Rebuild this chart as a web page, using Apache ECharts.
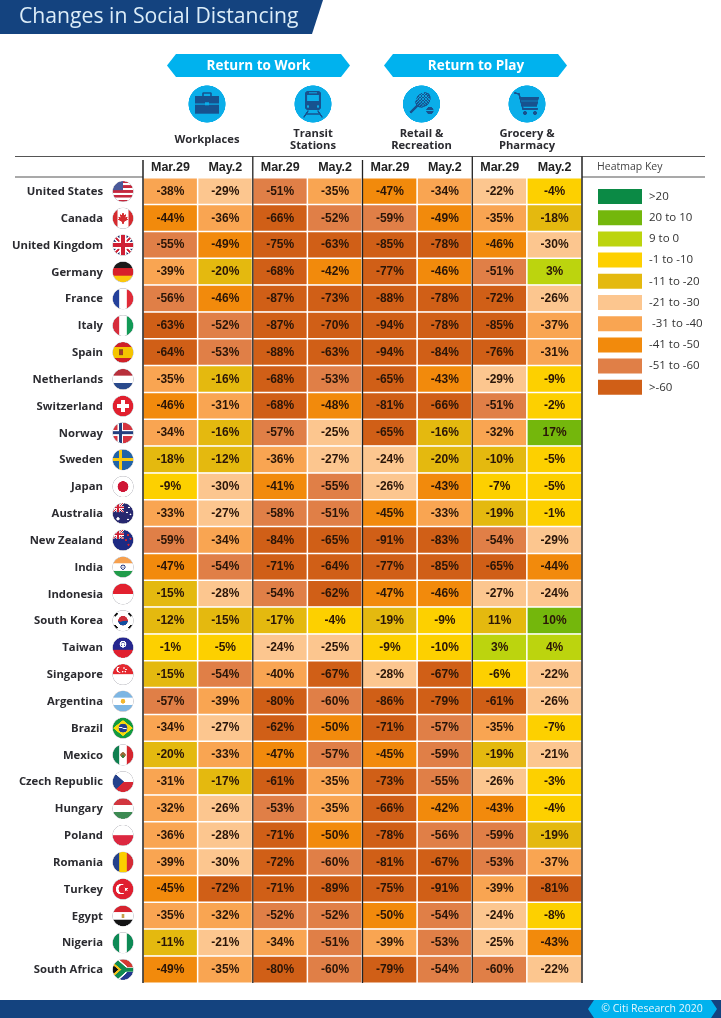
<!DOCTYPE html>
<html><head><meta charset="utf-8">
<style>html,body{margin:0;padding:0;background:#fff}#c{width:721px;height:1018px}</style>
<script src="https://cdn.jsdelivr.net/npm/echarts@6/dist/echarts.min.js"></script>
</head><body><div id="c"></div>
<script>
const title = 'Changes in Social Distancing';
const columns = ['Mar.29','May.2','Mar.29','May.2','Mar.29','May.2','Mar.29','May.2'];
const countries = ['United States','Canada','United Kingdom','Germany','France','Italy','Spain','Netherlands','Switzerland','Norway','Sweden','Japan','Australia','New Zealand','India','Indonesia','South Korea','Taiwan','Singapore','Argentina','Brazil','Mexico','Czech Republic','Hungary','Poland','Romania','Turkey','Egypt','Nigeria','South Africa'];
const workplacesMar = [-38,-44,-55,-39,-56,-63,-64,-35,-46,-34,-18,-9,-33,-59,-47,-15,-12,-1,-15,-57,-34,-20,-31,-32,-36,-39,-45,-35,-11,-49];
const workplacesMay = [-29,-36,-49,-20,-46,-52,-53,-16,-31,-16,-12,-30,-27,-34,-54,-28,-15,-5,-54,-39,-27,-33,-17,-26,-28,-30,-72,-32,-21,-35];
const transitMar = [-51,-66,-75,-68,-87,-87,-88,-68,-68,-57,-36,-41,-58,-84,-71,-54,-17,-24,-40,-80,-62,-47,-61,-53,-71,-72,-71,-52,-34,-80];
const transitMay = [-35,-52,-63,-42,-73,-70,-63,-53,-48,-25,-27,-55,-51,-65,-64,-62,-4,-25,-67,-60,-50,-57,-35,-35,-50,-60,-89,-52,-51,-60];
const retailMar = [-47,-59,-85,-77,-88,-94,-94,-65,-81,-65,-24,-26,-45,-91,-77,-47,-19,-9,-28,-86,-71,-45,-73,-66,-78,-81,-75,-50,-39,-79];
const retailMay = [-34,-49,-78,-46,-78,-78,-84,-43,-66,-16,-20,-43,-33,-83,-85,-46,-9,-10,-67,-79,-57,-59,-55,-42,-56,-67,-91,-54,-53,-54];
const groceryMar = [-22,-35,-46,-51,-72,-85,-76,-29,-51,-32,-10,-7,-19,-54,-65,-27,11,3,-6,-61,-35,-19,-26,-43,-59,-53,-39,-24,-25,-60];
const groceryMay = [-4,-18,-30,3,-26,-37,-31,-9,-2,17,-5,-5,-1,-29,-44,-24,10,4,-22,-26,-7,-21,-3,-4,-19,-37,-81,-8,-43,-22];
const valueColumns = [workplacesMar,workplacesMay,transitMar,transitMay,retailMar,retailMay,groceryMar,groceryMay];
// Cells whose printed colour belongs to another key band: [column,row,band value]
const toneOverrides = [[6,10,-11],[6,16,-11]];
const keyLabels = ['>20','20 to 10','9 to 0','-1 to -10','-11 to -20','-21 to -30',' -31 to -40','-41 to -50','-51 to -60','>-60'];
const keyColors = ['#0b8a45','#74b70c','#bcd40e','#fdd000','#e4b90f','#fcc68f','#f9a552','#f28a0c','#e07f47','#d05f17'];
const keyMins = [21,10,0,-10,-20,-30,-40,-50,-60,-200];
const keyMaxs = [200,20,9,-1,-11,-21,-31,-41,-51,-61];

const NAVY='#14437f', CYAN='#00b2ee';
function flag(draw){
  const S=4,c=document.createElement('canvas');c.width=c.height=22*S;
  const g=c.getContext('2d');g.scale(S,S);g.translate(11,11);
  g.save();g.beginPath();g.arc(0,0,10.2,0,Math.PI*2);g.clip();
  g.fillStyle='#fff';g.fillRect(-11,-11,22,22);draw(g);g.restore();
  g.beginPath();g.arc(0,0,10.4,0,Math.PI*2);g.strokeStyle='rgba(200,200,205,.8)';g.lineWidth=.7;g.stroke();
  return c;
}
const H=cs=>g=>{const h=22/cs.length;cs.forEach((k,i)=>{g.fillStyle=k;g.fillRect(-11,-11+i*h,22,h+.2)})};
const V=cs=>g=>{const w=22/cs.length;cs.forEach((k,i)=>{g.fillStyle=k;g.fillRect(-11+i*w,-11,w+.2,22)})};
const both=(...f)=>g=>f.forEach(x=>x(g));
const R=(k,x,y,w,h)=>g=>{g.fillStyle=k;g.fillRect(x,y,w,h)};
const C=(k,x,y,r)=>g=>{g.fillStyle=k;g.beginPath();g.arc(x,y,r,0,Math.PI*2);g.fill()};
const P=(k,pts)=>g=>{g.fillStyle=k;g.beginPath();pts.forEach((p,i)=>i?g.lineTo(p[0],p[1]):g.moveTo(p[0],p[1]));g.closePath();g.fill()};
const L=(k,w,x1,y1,x2,y2)=>g=>{g.strokeStyle=k;g.lineWidth=w;g.beginPath();g.moveTo(x1,y1);g.lineTo(x2,y2);g.stroke()};
const union=(x0,y0,w,h)=>g=>{const x1=x0+w,y1=y0+h,mx=x0+w/2,my=y0+h/2;
  g.save();g.beginPath();g.rect(x0,y0,w,h);g.clip();
  g.fillStyle='#26316f';g.fillRect(x0,y0,w,h);
  L('#fff',h*.2,x0,y0,x1,y1)(g);L('#fff',h*.2,x1,y0,x0,y1)(g);
  L('#cf1f34',h*.08,x0,y0,x1,y1)(g);L('#cf1f34',h*.08,x1,y0,x0,y1)(g);
  L('#fff',h*.32,mx,y0,mx,y1)(g);L('#fff',h*.32,x0,my,x1,my)(g);
  L('#cf1f34',h*.18,mx,y0,mx,y1)(g);L('#cf1f34',h*.18,x0,my,x1,my)(g);g.restore()};
const nordic=(bg,cw,cr)=>both(R(bg,-11,-11,22,22),...(cw?[R(cw,-5.5,-11,5.6,22),R(cw,-11,-2.8,22,5.6)]:[]),R(cr,-4.2,-11,3,22),R(cr,-11,-1.5,22,3));
const crescent=(x,y,r,k,bg)=>both(C(k,x,y,r),C(bg,x+r*.35,y,r*.82));
const flags = {
 'United States':both(H(['#c5283d','#fff','#c5283d','#fff','#c5283d','#fff','#c5283d','#fff','#c5283d']),R('#4a5a9a',-11,-11,11,10)),
 'Canada':both(V(['#d52b2f','#fff','#fff','#d52b2f']),P('#d52b2f',[[0,-6],[1.4,-3.4],[3,-4],[2.4,-.8],[4.8,-1.6],[4,.6],[5,1.4],[1,3.6],[.5,6],[-.5,6],[-1,3.6],[-5,1.4],[-4,.6],[-4.8,-1.6],[-2.4,-.8],[-3,-4],[-1.4,-3.4]])),
 'United Kingdom':union(-11,-11,22,22),
 'Germany':H(['#1a1a1a','#d8212b','#fbc80d']),
 'France':V(['#25419b','#fff','#e02b38']),
 'Italy':V(['#d62d3c','#fff','#129a56']),
 'Spain':both(H(['#cf2027','#f5c400','#f5c400','#cf2027']),R('#8d4a1b',-3.8,-3,4,6),C('#a6382a',-1.5,0,1.8)),
 'Netherlands':H(['#b8303c','#fff','#2a4a8c']),
 'Switzerland':both(R('#e1202f',-11,-11,22,22),R('#fff',-1.9,-6,3.8,12),R('#fff',-6,-1.9,12,3.8)),
 'Norway':nordic('#d6343f','#fff','#24407f'),
 'Sweden':nordic('#1f63a8',null,'#f6c911'),
 'Japan':C('#cf1535',0,0,5.4),
 'Australia':both(R('#27286f',-11,-11,22,22),union(-11,-11,12,10),C('#fff',-5,5.5,1.6),C('#fff',6,-6,.9),C('#fff',4,-1,.9),C('#fff',7.5,1,.9),C('#fff',5,6,.9)),
 'New Zealand':both(R('#1d2a83',-11,-11,22,22),union(-11,-11,12,10),C('#d2232d',5,-5,1.1),C('#d2232d',7.5,-1.5,1.1),C('#d2232d',3,0,1.1),C('#d2232d',5.5,4.5,1.1)),
 'India':both(H(['#f6a04e','#fff','#219c4a']),C('#2f3f85',0,0,2.6),C('#fff',0,0,1.6),C('#2f3f85',0,0,.6)),
 'Indonesia':H(['#e2212f','#fff']),
 'South Korea':both(C('#cd2e3a',0,0,4.8),P('#0f4fa0',[[-4.8,0],[-3,1],[0,.5],[3,-.2],[4.8,0],[4.4,2],[2.5,4],[0,4.8],[-2.5,4],[-4.4,2]]),
   L('#111',3.2,-9,-5,-6,-8),L('#111',3.2,6,-8,9,-5),L('#111',3.2,-9,5,-6,8),L('#111',3.2,6,8,9,5)),
 'Taiwan':both(R('#26278f',-11,-11,22,13),R('#e0202f',-11,2,22,9),C('#fff',0,-3.4,3.4),C('#26278f',0,-3.4,2.2),C('#fff',0,-3.4,1.7)),
 'Singapore':both(H(['#e5282f','#fff']),crescent(-3.6,-4.8,3,'#fff','#e5282f'),C('#fff',1,-6.4,.7),C('#fff',3,-4.8,.7),C('#fff',2.2,-2.6,.7),C('#fff',-.2,-2.6,.7)),
 'Argentina':both(H(['#7db6e3','#fff','#7db6e3']),C('#f2b72e',0,0,2.4)),
 'Brazil':both(R('#129a3f',-11,-11,22,22),P('#f7d90e',[[-10,0],[0,-8],[10,0],[0,8]]),C('#243e8f',0,0,4.4),L('#fff',.9,-4.2,-1,4.2,1)),
 'Mexico':both(V(['#0f7f4f','#fff','#d5262f']),C('#9a6a3a',0,0,2.7),C('#3d8040',0,1.4,1.5)),
 'Czech Republic':both(H(['#fff','#d62734']),P('#24418c',[[-11,-11],[1,0],[-11,11]])),
 'Hungary':H(['#d2363f','#fff','#3d8a53']),
 'Poland':H(['#fff','#dc2840']),
 'Romania':V(['#24418c','#fbd000','#d42a35']),
 'Turkey':both(R('#e01f30',-11,-11,22,22),crescent(-2,0,5.2,'#fff','#e01f30'),P('#fff',[[1.6,-2],[3,-.6],[5,-1],[3.8,.6],[5,2],[3,1.2],[1.6,2.4],[2,.3]])),
 'Egypt':both(H(['#d6232f','#fff','#141414']),R('#c5a04a',-1.4,-2.2,2.8,4.4)),
 'Nigeria':V(['#0d8a55','#fff','#0d8a55']),
 'South Africa':both(H(['#d43a33','#d43a33','#fff','#23388f','#23388f']),R('#108a50',-11,-1.9,22,3.8),L('#fff',8.4,-11,-11,1,0),L('#fff',8.4,-11,11,1,0),L('#108a50',5.6,-11,-11,1,0),L('#108a50',5.6,-11,11,1,0),R('#108a50',0,-1.9,11,3.8),P('#f6bf1a',[[-11,-8],[-1.5,0],[-11,8]]),P('#111',[[-11,-5.2],[-4.6,0],[-11,5.2]]))
};

function icon(draw){
  const S=4,D=38,c=document.createElement('canvas');c.width=c.height=D*S;
  const g=c.getContext('2d');g.scale(S,S);g.translate(D/2,D/2);
  g.fillStyle='#0aaee9';g.beginPath();g.arc(0,0,18.6,0,Math.PI*2);g.fill();
  g.fillStyle=g.strokeStyle='#17528f';g.lineCap='round';g.lineJoin='round';draw(g);return c;
}
const briefcase=icon(g=>{g.lineWidth=1.3;g.strokeRect(-4,-11,8,4);g.fillRect(-12,-8,24,7.5);g.fillRect(-12,.6,24,9);g.fillStyle='#0aaee9';g.fillRect(-1.8,-1.6,3.6,3)});
const train=icon(g=>{g.beginPath();g.roundRect(-8,-13,16,19,3);g.fill();g.fillStyle='#0aaee9';g.fillRect(-5.7,-9,11.4,6);g.fillRect(-4,-11.6,8,1);g.beginPath();g.arc(-5,2.5,1.2,0,7);g.arc(5,2.5,1.2,0,7);g.fill();L('#17528f',1.4,-5,7,-9,13)(g);L('#17528f',1.4,5,7,9,13)(g);L('#17528f',1.2,-7,10,7,10)(g)});
const racket=icon(g=>{g.save();g.translate(1.5,-4);g.rotate(Math.PI/4);g.beginPath();g.ellipse(0,0,6.6,8.6,0,0,Math.PI*2);g.fill();for(let i=-5;i<=5;i+=2.2){L('#0aaee9',.5,i,-7,i,7)(g);L('#0aaee9',.5,-5.6,i,5.6,i)(g)}g.fillStyle='#17528f';g.fillRect(-1.3,8,2.6,10);g.restore();g.fillStyle='#17528f';g.beginPath();g.arc(8.4,6.6,3.7,0,7);g.fill();L('#0aaee9',.7,5,6.6,11.8,6.6)(g)});
const cart=icon(g=>{g.lineWidth=1.7;g.beginPath();g.moveTo(-12,-11);g.lineTo(-8,-10);g.lineTo(-4,5);g.lineTo(10,5);g.stroke();g.beginPath();g.moveTo(-6.5,-7);g.lineTo(12,-7);g.lineTo(10,2.6);g.lineTo(-4,2.6);g.closePath();g.fill();g.beginPath();g.arc(-2,9,2,0,7);g.arc(8,9,2,0,7);g.fill();L('#0aaee9',.7,-6,-3,11,-3)(g)});

const richStyles={name:{fontFamily:'Open Sans',fontWeight:'bold',fontSize:11.3,color:'#2b2b30',padding:[1,9,0,0]}};
const keyOf=i=>'f'+i;
countries.forEach((n,i)=>{richStyles[keyOf(i)]={width:22,height:22,backgroundColor:{image:flag(flags[n])}}});

const cells=[];
valueColumns.forEach((vals,c)=>vals.forEach((v,r)=>{
  const o=toneOverrides.find(t=>t[0]===c&&t[1]===r);
  cells.push([c,r,o?o[2]:v,v]);
}));

const HEADFONT='Open Sans';
const text=(s,x,y,st)=>({type:'text',x,y,silent:true,z:20,style:Object.assign({text:s,fill:'#2b2b30',align:'center',verticalAlign:'middle',fontFamily:HEADFONT},st)});
const line=(x1,y1,x2,y2,st)=>({type:'line',silent:true,z:20,shape:{x1,y1,x2,y2},style:Object.assign({stroke:'#555',lineWidth:1.2},st)});
const pill=(a,b)=>({type:'polygon',silent:true,z:10,shape:{points:[[a,65.5],[a+9,54],[b-9,54],[b,65.5],[b-9,77],[a+9,77]]},style:{fill:CYAN}});
const img=(c,cx,cy)=>({type:'image',silent:true,z:10,style:{image:c,x:cx-19,y:cy-19,width:38,height:38}});
const graphics=[
 {type:'polygon',silent:true,z:10,shape:{points:[[0,0],[323,0],[312,34],[0,34]]},style:{fill:NAVY}},
 text(title,19,16.5,{align:'left',fontFamily:'Open Sans',fontSize:21.2,fill:'#dcedf8'}),
 pill(167,350),pill(384,567),
 text('Return to Work',258.5,66,{fill:'#fff',fontWeight:'bold',fontSize:13.5}),
 text('Return to Play',476,66,{fill:'#fff',fontWeight:'bold',fontSize:13.5}),
 img(briefcase,207,104),img(train,313,104),img(racket,421.5,104),img(cart,527,104),
 text('Workplaces',207,140,{fontWeight:'bold',fontSize:11.2}),
 text('Transit\nStations',313,140,{fontWeight:'bold',fontSize:11.2,lineHeight:12}),
 text('Retail &\nRecreation',421.5,140,{fontWeight:'bold',fontSize:11.2,lineHeight:12}),
 text('Grocery &\nPharmacy',527,140,{fontWeight:'bold',fontSize:11.2,lineHeight:12}),
 line(15,156.5,705,156.5),line(15,177,143,177),line(582,177,705,177),
 line(143,160,143,983,{stroke:'#222',lineWidth:1.5}),
 line(252.8,156.5,252.8,983,{stroke:'#222',lineWidth:1.3}),
 line(362.5,160,362.5,983,{stroke:'#222',lineWidth:1.3}),
 line(472.3,156.5,472.3,983,{stroke:'#222',lineWidth:1.3}),
 line(582,156.5,582,983,{stroke:'#222',lineWidth:1.5}),
 text('Heatmap Key',597,167,{align:'left',fontSize:10.5,fill:'#444'}),
 {type:'rect',silent:true,z:10,shape:{x:0,y:1000,width:721,height:18},style:{fill:NAVY}},
 {type:'polygon',silent:true,z:11,shape:{points:[[588,1009],[594,1000],[711,1000],[717,1009],[711,1018],[594,1018]]},style:{fill:CYAN}},
 text('© Citi Research 2020',652,1009,{fontSize:10.5,fill:'#e8f7fd'})
];

const chart=echarts.init(document.getElementById('c'),null,{renderer:'canvas'});
chart.setOption({
 animation:false,backgroundColor:'#fff',
 grid:{left:143,top:178,width:439,height:805,containLabel:false},
 xAxis:{type:'category',position:'top',data:columns,axisLine:{show:false},axisTick:{show:false},splitLine:{show:false},
   axisLabel:{interval:0,margin:4,color:'#222',fontFamily:'Liberation Sans',fontWeight:'bold',fontSize:12.5}},
 yAxis:{type:'category',inverse:true,data:countries,axisLine:{show:false},axisTick:{show:false},splitLine:{show:false},
   axisLabel:{interval:0,margin:9,formatter:(v,i)=>'{name|'+v+'}{'+keyOf(i)+'|}',rich:richStyles}},
 visualMap:{type:'piecewise',show:true,seriesIndex:0,dimension:2,left:598,top:189,padding:0,orient:'vertical',selectedMode:false,
   itemWidth:44,itemHeight:15,itemGap:6.2,textGap:7,align:'left',itemSymbol:'rect',hoverLink:false,
   textStyle:{color:'#333',fontFamily:'Open Sans',fontSize:11.5},
   pieces:keyLabels.map((label,i)=>({min:keyMins[i],max:keyMaxs[i],label,color:keyColors[i]}))},
 series:[{type:'heatmap',data:cells,encode:{x:0,y:1,value:2},progressive:0,emphasis:{disabled:true},
   itemStyle:{borderColor:'#fff',borderWidth:1.5},
   label:{show:true,formatter:p=>p.data[3]+'%',color:'#2a1508',fontFamily:'Liberation Sans',fontWeight:'bold',fontSize:12}}],
 graphic:graphics
});
</script></body></html>
